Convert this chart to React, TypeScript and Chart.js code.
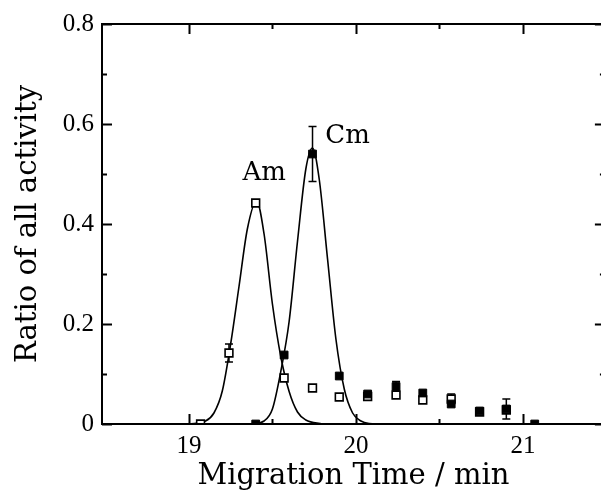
import React, { useEffect, useRef } from 'react';
import { Chart, registerables } from 'chart.js';

Chart.register(...registerables);

// ---- data ----
const xTickValues = [19, 20, 21];
const xMinorTickValues = [19.5, 20.5];
const yTickValues = [0, 0.2, 0.4, 0.6, 0.8];
const yMinorTickValues = [0.1, 0.3, 0.5, 0.7];

const xTitle = 'Migration Time / min';
const yTitle = 'Ratio of all activity';

// measured fractions (markers)
const timePoints = [19.07, 19.24, 19.40, 19.57, 19.74, 19.90, 20.07, 20.24, 20.40, 20.57, 20.74, 20.90, 21.07];
const amValues = [0, 0.142, 0.442, 0.092, 0.072, 0.054, 0.055, 0.058, 0.048, 0.05, 0.024, 0.028, null];
const amErrors = [0, 0.018, 0, 0, 0, 0, 0, 0, 0, 0.01, 0, 0, 0];
const cmValues = [null, null, 0, 0.138, 0.54, 0.096, 0.06, 0.075, 0.062, 0.04, 0.026, 0.03, 0];
const cmErrors = [0, 0, 0, 0, 0.055, 0, 0, 0.01, 0, 0, 0, 0.02, 0];

// fitted peak curves
const amCurveX = [19.0, 19.1, 19.15, 19.2, 19.25, 19.3, 19.35, 19.405, 19.45, 19.5, 19.55, 19.6, 19.65, 19.7, 19.8];
const amCurveY = [0, 0.006, 0.022, 0.066, 0.16, 0.275, 0.39, 0.446, 0.38, 0.24, 0.135, 0.065, 0.024, 0.008, 0];
const cmCurveX = [19.38, 19.45, 19.5, 19.55, 19.6, 19.65, 19.7, 19.74, 19.78, 19.83, 19.88, 19.93, 19.98, 20.03, 20.08, 20.14];
const cmCurveY = [0, 0.006, 0.03, 0.105, 0.205, 0.365, 0.51, 0.552, 0.49, 0.33, 0.17, 0.07, 0.022, 0.006, 0.001, 0];

// peak labels
const peakLabels = ['Am', 'Cm'];
const peakLabelX = [19.451, 19.95];
const peakLabelY = [0.502, 0.576];

const X_MIN = 18.48;
const X_MAX = 21.49;

const decorPlugin = {
  id: 'decor',
  beforeDatasetsDraw(chart: any) {
    const { ctx, scales } = chart;
    const x = scales.x, y = scales.y;
    ctx.save();
    ctx.strokeStyle = '#000';
    ctx.lineWidth = 1.5;
    const drawErr = (vals: (number | null)[], errs: number[]) => {
      vals.forEach((v, i) => {
        const e = errs[i];
        if (v == null || !e) return;
        const px = x.getPixelForValue(timePoints[i]);
        const y1 = y.getPixelForValue(v + e);
        const y2 = y.getPixelForValue(Math.max(0, v - e));
        ctx.beginPath();
        ctx.moveTo(px, y1); ctx.lineTo(px, y2);
        ctx.moveTo(px - 4, y1); ctx.lineTo(px + 4, y1);
        ctx.moveTo(px - 4, y2); ctx.lineTo(px + 4, y2);
        ctx.stroke();
      });
    };
    drawErr(amValues, amErrors);
    drawErr(cmValues, cmErrors);
    ctx.restore();
  },
  afterDraw(chart: any) {
    const { ctx, chartArea, scales } = chart;
    const x = scales.x, y = scales.y;
    const { left, right, top, bottom } = chartArea;
    ctx.save();
    ctx.strokeStyle = '#000';
    ctx.lineWidth = 2;
    ctx.strokeRect(left, top, right - left, bottom - top);
    ctx.beginPath();
    xTickValues.forEach((v) => {
      const px = Math.round(x.getPixelForValue(v)) + 0.5;
      ctx.moveTo(px, bottom); ctx.lineTo(px, bottom - 10);
      ctx.moveTo(px, top); ctx.lineTo(px, top + 10);
    });
    xMinorTickValues.forEach((v) => {
      const px = Math.round(x.getPixelForValue(v)) + 0.5;
      ctx.moveTo(px, bottom); ctx.lineTo(px, bottom - 5);
      ctx.moveTo(px, top); ctx.lineTo(px, top + 5);
    });
    yTickValues.forEach((v) => {
      const py = Math.round(y.getPixelForValue(v)) + 0.5;
      ctx.moveTo(left, py); ctx.lineTo(left + 10, py);
      ctx.moveTo(right, py); ctx.lineTo(right - 10, py);
    });
    yMinorTickValues.forEach((v) => {
      const py = Math.round(y.getPixelForValue(v)) + 0.5;
      ctx.moveTo(left, py); ctx.lineTo(left + 5, py);
      ctx.moveTo(right, py); ctx.lineTo(right - 5, py);
    });
    ctx.stroke();

    ctx.fillStyle = '#000';
    ctx.font = '26px "DejaVu Serif"';
    ctx.textAlign = 'center';
    ctx.textBaseline = 'middle';
    peakLabels.forEach((t, i) => {
      ctx.fillText(t, x.getPixelForValue(peakLabelX[i]), y.getPixelForValue(peakLabelY[i]));
    });
    ctx.restore();
  },
};

export default function App() {
  const ref = useRef<HTMLCanvasElement | null>(null);

  useEffect(() => {
    if (!ref.current) return;
    const toPts = (xs: number[], ys: (number | null)[]) => xs.map((v, i) => ({ x: v, y: ys[i] }));
    const chart = new Chart(ref.current, {
      type: 'line',
      data: {
        datasets: [
          {
            label: 'Cm',
            data: toPts(timePoints, cmValues) as any,
            showLine: false,
            pointStyle: 'rect',
            pointRadius: 5.5,
            pointBackgroundColor: '#000',
            pointBorderColor: '#000',
            pointBorderWidth: 1,
            order: 0,
          },
          {
            label: 'Am',
            data: toPts(timePoints, amValues) as any,
            showLine: false,
            pointStyle: 'rect',
            pointRadius: 5.5,
            pointBackgroundColor: '#fff',
            pointBorderColor: '#000',
            pointBorderWidth: 1.6,
            order: 1,
          },
          {
            label: 'Am fit',
            data: toPts(amCurveX, amCurveY) as any,
            borderColor: '#000',
            borderWidth: 1.6,
            pointRadius: 0,
            cubicInterpolationMode: 'monotone',
            fill: false,
            order: 2,
          },
          {
            label: 'Cm fit',
            data: toPts(cmCurveX, cmCurveY) as any,
            borderColor: '#000',
            borderWidth: 1.6,
            pointRadius: 0,
            cubicInterpolationMode: 'monotone',
            fill: false,
            order: 2,
          },
        ],
      },
      options: {
        animation: false,
        responsive: false,
        devicePixelRatio: 1,
        layout: { padding: { top: 24, right: 4, bottom: 0, left: 0 } },
        plugins: { legend: { display: false }, tooltip: { enabled: false } },
        scales: {
          x: {
            type: 'linear',
            min: X_MIN,
            max: X_MAX,
            grid: { display: false, drawTicks: false },
            border: { display: false },
            afterBuildTicks: (s: any) => { s.ticks = xTickValues.map((v) => ({ value: v })); },
            afterFit: (s: any) => { s.height = 72; },
            ticks: {
              padding: 7,
              color: '#000',
              font: { family: '"Liberation Serif"', size: 25 },
              callback: (v: any) => String(v),
            },
            title: {
              display: true,
              text: xTitle,
              color: '#000',
              font: { family: '"DejaVu Serif"', size: 29 },
              padding: { top: 0, bottom: 2 },
            },
          },
          y: {
            type: 'linear',
            min: 0,
            max: 0.8,
            grid: { display: false, drawTicks: false },
            border: { display: false },
            afterBuildTicks: (s: any) => { s.ticks = yTickValues.map((v) => ({ value: v })); },
            afterFit: (s: any) => { s.width = 102; },
            ticks: {
              padding: 8,
              color: '#000',
              font: { family: '"Liberation Serif"', size: 25 },
              callback: (v: any) => (Number(v) === 0 ? '0' : Number(v).toFixed(1)),
            },
            title: {
              display: true,
              text: yTitle,
              color: '#000',
              font: { family: '"DejaVu Serif"', size: 29 },
              padding: { top: 11, bottom: 0 },
            },
          },
        },
      },
      plugins: [decorPlugin],
    });
    return () => chart.destroy();
  }, []);

  return (
    <div style={{ position: 'absolute', left: 0, top: 0, width: 601, height: 496, overflow: 'hidden', background: '#fff' }}>
      <canvas ref={ref} width={612} height={496} style={{ display: 'block', width: 612, height: 496 }} />
    </div>
  );
}
